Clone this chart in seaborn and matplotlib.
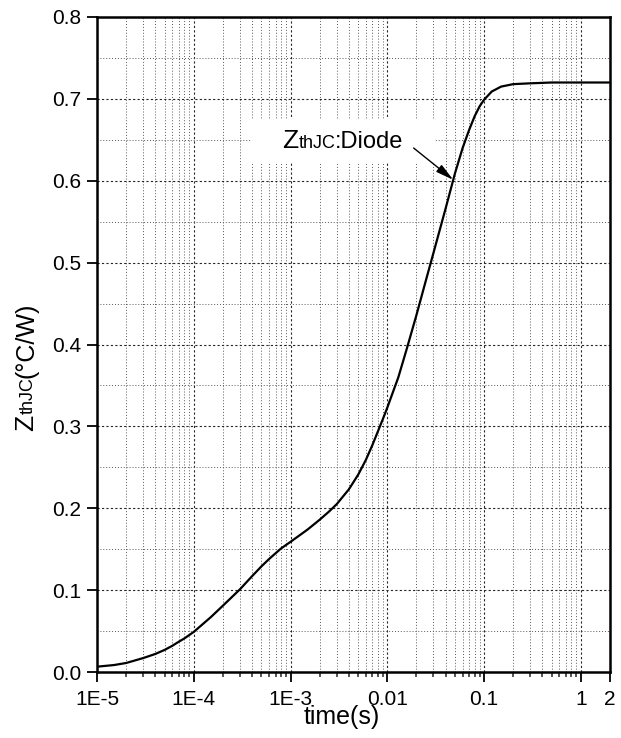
import numpy as np
import pandas as pd
import matplotlib
matplotlib.use("Agg")
import matplotlib.pyplot as plt
from matplotlib.ticker import LogLocator, NullFormatter, MultipleLocator, FixedLocator, FixedFormatter
from matplotlib.offsetbox import TextArea, HPacker, DrawingArea, AnnotationBbox
import seaborn as sns

# Transient thermal impedance, junction to case (diode)
time_s = [1e-5, 1.5e-5, 2e-5, 3e-5, 4e-5, 5e-5, 6e-5, 7e-5, 8e-5, 1e-4,
          1.5e-4, 2e-4, 2.5e-4, 3e-4, 4e-4, 5e-4, 6e-4, 7e-4, 8e-4, 1e-3,
          1.5e-3, 2e-3, 2.5e-3, 3e-3, 4e-3, 5e-3, 6e-3, 7e-3, 8e-3, 9e-3,
          1e-2, 1.3e-2, 1.6e-2, 2e-2, 2.5e-2, 3e-2, 4e-2, 5e-2, 6e-2, 7e-2,
          8e-2, 9e-2, 0.1, 0.12, 0.15, 0.2, 0.3, 0.5, 1.0, 2.0]
zth_diode = [0.0065, 0.0085, 0.011, 0.017, 0.022, 0.027, 0.032, 0.037, 0.041, 0.049,
             0.067, 0.081, 0.092, 0.101, 0.117, 0.129, 0.138, 0.145, 0.151, 0.159,
             0.174, 0.186, 0.196, 0.205, 0.223, 0.241, 0.259, 0.277, 0.294, 0.309,
             0.323, 0.360, 0.396, 0.436, 0.478, 0.512, 0.566, 0.609, 0.640, 0.662,
             0.679, 0.691, 0.699, 0.709, 0.715, 0.718, 0.719, 0.720, 0.720, 0.720]

xtick_values = [1e-5, 1e-4, 1e-3, 1e-2, 0.1, 1, 2]
xtick_labels = ["1E-5", "1E-4", "1E-3", "0.01", "0.1", "1", "2"]
ytick_values = [0.0, 0.1, 0.2, 0.3, 0.4, 0.5, 0.6, 0.7, 0.8]

df = pd.DataFrame({"time": time_s, "zth": zth_diode})

sns.set_theme(style="ticks")
plt.rcParams["font.family"] = ["Liberation Sans", "DejaVu Sans"]
plt.rcParams["axes.unicode_minus"] = False

W, H = 621, 738
fig = plt.figure(figsize=(W / 100, H / 100), dpi=100)
ax = fig.add_axes([97 / W, 1 - 672 / H, 513 / W, 655 / H])
ax.set_xscale("log")

sns.lineplot(data=df, x="time", y="zth", ax=ax, color="black", linewidth=1.6,
             zorder=2, sort=True)

ax.set_xlim(1e-5, 2)
ax.set_ylim(0, 0.8)

ax.xaxis.set_major_locator(FixedLocator(xtick_values))
ax.xaxis.set_major_formatter(FixedFormatter(xtick_labels))
ax.xaxis.set_minor_locator(LogLocator(base=10, subs=np.arange(2, 10), numticks=20))
ax.xaxis.set_minor_formatter(NullFormatter())
ax.set_yticks(ytick_values)
ax.set_yticklabels([f"{v:.1f}" for v in ytick_values])
ax.yaxis.set_minor_locator(MultipleLocator(0.05))

ax.set_axisbelow(True)
ax.grid(True, which="major", linestyle=(0, (2, 2)), color="0.15", linewidth=0.8)
ax.grid(True, which="minor", linestyle=(0, (1, 2)), color="0.35", linewidth=0.7)

for sp in ax.spines.values():
    sp.set_linewidth(1.8)
    sp.set_color("black")

ax.tick_params(which="major", direction="out", length=7.5, width=1.3,
               labelsize=15, pad=4, colors="black", top=False, right=False)
ax.tick_params(axis="x", which="major", pad=5.5)
ax.tick_params(axis="x", which="minor", direction="out", length=3.6, width=1.1,
               top=False)
ax.tick_params(axis="y", which="minor", length=0, right=False)

ax.set_ylabel("")
ax.set_xlabel("time(s)", fontsize=18, color="black")
ax.xaxis.set_label_coords(0.477, -0.051)

# Label box with a larger Z and a smaller "thJC"
def piece(s, fs):
    return TextArea(s, textprops=dict(fontsize=fs, color="black"))

box = HPacker(children=[DrawingArea(16, 0), piece("Z", 19), piece("thJC", 13),
                        piece(":Diode", 17), DrawingArea(16, 0)],
              align="baseline", pad=0, sep=0)
ab = AnnotationBbox(box, (3.47e-3, 0.649), xycoords="data", box_alignment=(0.5, 0.5),
                    frameon=True, pad=0.6,
                    bboxprops=dict(facecolor="white", edgecolor="none"), zorder=3)
ax.add_artist(ab)

# Arrow pointing at the curve
t_tip = 0.048
z_tip = float(np.interp(np.log10(t_tip), np.log10(time_s), zth_diode))
ax.annotate("", xy=(t_tip, z_tip), xytext=(0.0187, 0.640),
            arrowprops=dict(arrowstyle="-|>,head_length=0.9,head_width=0.22",
                            color="black", lw=1.0, shrinkA=0, shrinkB=0),
            zorder=4)

# Rotated y-axis label assembled from pieces of different sizes
fig.canvas.draw()
renderer = fig.canvas.get_renderer()
ylabel_parts = [("Z", 19), ("thJC", 13), ("(°C/W)", 18)]
texts = []
for s, fs in ylabel_parts:
    t = fig.text(0, 0, s, fontsize=fs, rotation=90, rotation_mode="anchor",
                 ha="left", va="baseline", color="black", transform=None)
    texts.append(t)
lengths = [t.get_window_extent(renderer).height for t in texts]
total = sum(lengths)
center_y = (1 - 366.5 / H) * H
y = center_y - total / 2
x_base = 33
for t, L in zip(texts, lengths):
    t.set_position((x_base, y))
    y += L

fig.savefig("out.png", dpi=100)
